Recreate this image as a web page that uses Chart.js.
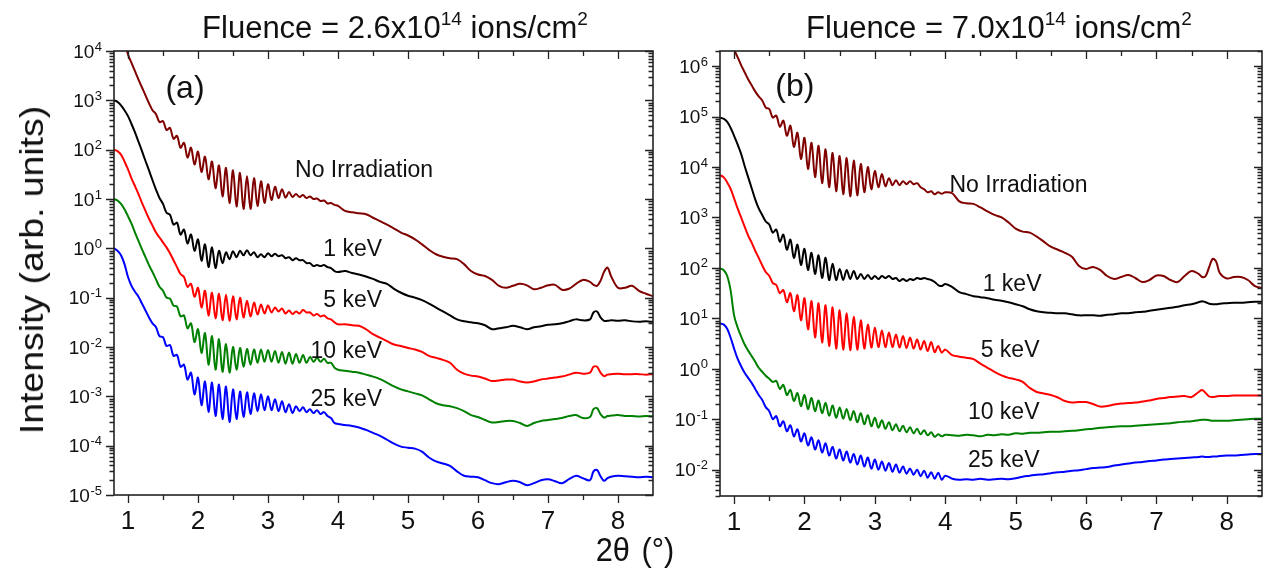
<!DOCTYPE html>
<html><head><meta charset="utf-8">
<script src="https://cdn.jsdelivr.net/npm/chart.js@4.4.1/dist/chart.umd.min.js"></script>
<style>
html,body{margin:0;padding:0;background:#fff;width:1270px;height:577px;overflow:hidden;font-family:"Liberation Sans",Arial,sans-serif;color:#111}
#wa{position:absolute;left:0;top:0;width:660px;height:577px}
#wb{position:absolute;left:660px;top:0;width:610px;height:577px}
.ttl{position:absolute;top:12px;font-size:31px;line-height:31px;white-space:nowrap;transform:translateX(-50%)}
.ttl sup{font-size:19px;line-height:0;vertical-align:13px}
#yt{position:absolute;left:31px;top:270px;font-size:34px;line-height:34px;white-space:nowrap;transform:translate(-50%,-50%) rotate(-90deg) scaleX(1.1)}
#xt{position:absolute;left:635px;top:536px;font-size:29px;line-height:29px;white-space:nowrap;word-spacing:3px;transform:translateX(-50%) scale(1.06,1.14);transform-origin:50% 50%}
</style></head>
<body>
<div id="wa"><canvas id="ca"></canvas></div>
<div id="wb"><canvas id="cb"></canvas></div>
<div class="ttl" style="left:395px">Fluence = 2.6x10<sup>14</sup> ions/cm<sup>2</sup></div>
<div class="ttl" style="left:999px">Fluence = 7.0x10<sup>14</sup> ions/cm<sup>2</sup></div>
<div id="yt">Intensity (arb. units)</div>
<div id="xt">2θ (°)</div>
<script>
// ---- shared x grid: 2θ (degrees) ----
const xGrid = [
 0.80,0.85,0.90,0.95,1.00,1.05,1.10,1.15,1.20,1.25,
 1.30,1.35,1.40,1.45,1.50,1.55,1.60,1.65,1.70,1.75,
 1.80,1.85,1.90,1.95,2.00,2.05,2.10,2.15,2.20,2.25,
 2.30,2.35,2.40,2.45,2.50,2.55,2.60,2.65,2.70,2.75,
 2.80,2.85,2.90,2.95,3.00,3.05,3.10,3.15,3.20,3.25,
 3.30,3.35,3.40,3.45,3.50,3.55,3.60,3.65,3.70,3.75,
 3.80,3.85,3.90,3.95,4.00,4.1,4.2,4.3,4.4,4.5,
 4.6,4.7,4.8,4.9,5.0,5.1,5.2,5.3,5.4,5.5,
 5.6,5.7,5.8,5.9,6.0,6.1,6.2,6.3,6.4,6.5,
 6.6,6.7,6.8,6.9,7.0,7.1,7.2,7.3,7.4,7.5,
 7.6,7.65,7.7,7.75,7.8,7.85,7.9,8.0,8.1,8.2,
 8.3,8.4,8.5];

// ---- intensities, stored as log10(intensity) ----
// Panel (a)
const aNoIrrLog10 = [
 5.20,4.85,4.55,4.22,3.93,3.76,3.59,3.42,3.26,3.10,
 2.94,2.80,2.72,2.56,2.58,2.40,2.44,2.22,2.28,2.04,
 2.14,1.84,2.04,1.70,1.96,1.55,1.86,1.40,1.76,1.22,
 1.68,1.05,1.63,0.92,1.58,0.85,1.53,0.80,1.46,0.80,
 1.42,0.86,1.36,0.92,1.30,0.98,1.25,1.02,1.20,1.03,
 1.14,1.04,1.10,1.04,1.08,1.02,1.05,1.00,1.01,0.96,
 0.97,0.91,0.92,0.88,0.86,0.76,0.73,0.71,0.69,0.62,
 0.55,0.48,0.40,0.32,0.26,0.18,0.08,-0.03,-0.12,-0.17,
 -0.20,-0.22,-0.32,-0.46,-0.53,-0.56,-0.64,-0.76,-0.80,-0.76,
 -0.72,-0.75,-0.83,-0.80,-0.75,-0.74,-0.84,-0.82,-0.72,-0.64,
 -0.68,-0.74,-0.76,-0.66,-0.48,-0.39,-0.56,-0.80,-0.80,-0.76,
 -0.86,-0.92,-0.97];
const a1keVLog10 = [
 3.00,2.97,2.90,2.80,2.68,2.52,2.35,2.16,1.97,1.77,
 1.58,1.38,1.19,1.02,0.90,0.72,0.68,0.48,0.52,0.28,
 0.38,0.10,0.28,-0.05,0.18,-0.25,0.08,-0.38,0.02,-0.40,
 -0.05,-0.30,-0.08,-0.22,-0.06,-0.18,-0.05,-0.14,-0.04,-0.14,
 -0.08,-0.18,-0.12,-0.18,-0.10,-0.16,-0.11,-0.16,-0.14,-0.20,
 -0.18,-0.24,-0.20,-0.24,-0.24,-0.30,-0.30,-0.36,-0.34,-0.36,
 -0.34,-0.38,-0.40,-0.46,-0.48,-0.46,-0.50,-0.53,-0.57,-0.62,
 -0.68,-0.72,-0.82,-0.90,-0.96,-1.00,-1.05,-1.12,-1.20,-1.28,
 -1.36,-1.44,-1.48,-1.50,-1.52,-1.56,-1.64,-1.62,-1.60,-1.57,
 -1.60,-1.64,-1.60,-1.58,-1.55,-1.54,-1.52,-1.48,-1.44,-1.46,
 -1.44,-1.30,-1.28,-1.40,-1.47,-1.47,-1.46,-1.47,-1.46,-1.48,
 -1.49,-1.48,-1.49];
const a5keVLog10 = [
 2.00,1.97,1.90,1.76,1.60,1.42,1.26,1.10,0.92,0.76,
 0.60,0.46,0.32,0.22,0.12,0.02,-0.10,-0.24,-0.38,-0.52,
 -0.58,-0.78,-0.72,-0.98,-0.80,-1.20,-0.86,-1.36,-0.90,-1.42,
 -0.92,-1.46,-0.94,-1.47,-0.97,-1.44,-1.00,-1.40,-1.06,-1.38,
 -1.10,-1.34,-1.14,-1.32,-1.16,-1.30,-1.20,-1.28,-1.22,-1.32,
 -1.26,-1.33,-1.28,-1.32,-1.25,-1.30,-1.30,-1.36,-1.33,-1.38,
 -1.36,-1.42,-1.44,-1.50,-1.54,-1.54,-1.56,-1.57,-1.64,-1.74,
 -1.81,-1.88,-1.95,-1.98,-2.02,-2.05,-2.10,-2.18,-2.22,-2.26,
 -2.32,-2.46,-2.54,-2.58,-2.60,-2.64,-2.69,-2.68,-2.66,-2.66,
 -2.70,-2.72,-2.70,-2.66,-2.64,-2.62,-2.60,-2.56,-2.52,-2.54,
 -2.52,-2.40,-2.40,-2.52,-2.59,-2.56,-2.55,-2.54,-2.55,-2.55,
 -2.55,-2.56,-2.55];
const a10keVLog10 = [
 1.00,0.97,0.90,0.79,0.65,0.50,0.32,0.15,-0.02,-0.18,
 -0.34,-0.48,-0.63,-0.78,-0.86,-1.00,-1.02,-1.16,-1.18,-1.38,
 -1.36,-1.62,-1.52,-1.90,-1.64,-2.12,-1.72,-2.36,-1.78,-2.46,
 -1.84,-2.50,-1.94,-2.52,-2.00,-2.46,-2.02,-2.40,-2.04,-2.36,
 -2.05,-2.32,-2.05,-2.30,-2.06,-2.30,-2.08,-2.32,-2.10,-2.34,
 -2.11,-2.34,-2.14,-2.32,-2.16,-2.32,-2.20,-2.30,-2.22,-2.30,
 -2.24,-2.32,-2.32,-2.42,-2.46,-2.48,-2.50,-2.52,-2.56,-2.60,
 -2.65,-2.72,-2.80,-2.86,-2.90,-2.94,-2.98,-3.06,-3.14,-3.18,
 -3.20,-3.24,-3.30,-3.38,-3.42,-3.48,-3.53,-3.52,-3.50,-3.50,
 -3.54,-3.60,-3.54,-3.50,-3.48,-3.46,-3.44,-3.40,-3.38,-3.44,
 -3.42,-3.26,-3.24,-3.36,-3.43,-3.40,-3.39,-3.38,-3.40,-3.40,
 -3.41,-3.40,-3.41];
const a25keVLog10 = [
 0.00,-0.05,-0.14,-0.32,-0.58,-0.76,-0.88,-0.98,-1.12,-1.26,
 -1.40,-1.52,-1.60,-1.78,-1.80,-1.98,-1.96,-2.18,-2.16,-2.40,
 -2.36,-2.66,-2.52,-2.96,-2.62,-3.18,-2.70,-3.32,-2.72,-3.40,
 -2.76,-3.46,-2.80,-3.52,-2.86,-3.46,-2.90,-3.42,-2.92,-3.36,
 -2.94,-3.30,-2.96,-3.28,-3.00,-3.28,-3.06,-3.30,-3.10,-3.32,
 -3.16,-3.34,-3.20,-3.30,-3.22,-3.32,-3.26,-3.34,-3.28,-3.36,
 -3.32,-3.40,-3.44,-3.54,-3.56,-3.58,-3.60,-3.63,-3.68,-3.74,
 -3.80,-3.88,-3.96,-4.02,-4.04,-4.06,-4.12,-4.24,-4.32,-4.36,
 -4.41,-4.52,-4.61,-4.63,-4.64,-4.70,-4.76,-4.78,-4.74,-4.71,
 -4.74,-4.80,-4.76,-4.70,-4.68,-4.72,-4.76,-4.68,-4.61,-4.66,
 -4.70,-4.52,-4.49,-4.62,-4.71,-4.66,-4.63,-4.61,-4.62,-4.63,
 -4.64,-4.63,-4.64];
// Panel (b)
const bNoIrrLog10 = [
 7.20,7.00,6.75,6.50,6.33,6.18,6.02,5.88,5.74,5.62,
 5.50,5.40,5.32,5.18,5.15,4.98,5.02,4.80,4.92,4.62,
 4.82,4.40,4.68,4.16,4.58,3.96,4.48,3.80,4.42,3.68,
 4.35,3.60,4.28,3.52,4.22,3.46,4.18,3.42,4.13,3.44,
 4.06,3.50,4.00,3.56,3.92,3.60,3.86,3.62,3.78,3.64,
 3.74,3.64,3.72,3.66,3.72,3.66,3.68,3.60,3.56,3.50,
 3.52,3.46,3.50,3.47,3.50,3.48,3.32,3.28,3.27,3.20,
 3.12,3.05,3.00,2.90,2.78,2.72,2.70,2.62,2.52,2.42,
 2.36,2.30,2.22,2.04,1.98,2.02,1.96,1.84,1.78,1.82,
 1.86,1.80,1.72,1.76,1.85,1.84,1.76,1.72,1.84,1.94,
 1.88,1.82,1.84,2.02,2.18,2.12,1.90,1.79,1.82,1.82,
 1.76,1.64,1.60];
const b1keVLog10 = [
 4.98,4.96,4.90,4.78,4.62,4.45,4.26,4.02,3.80,3.58,
 3.36,3.18,3.05,2.92,2.86,2.70,2.76,2.52,2.66,2.36,
 2.56,2.20,2.46,2.06,2.38,1.96,2.30,1.88,2.25,1.80,
 2.20,1.76,2.08,1.76,1.98,1.76,1.96,1.78,1.94,1.78,
 1.88,1.78,1.86,1.78,1.84,1.78,1.84,1.80,1.84,1.78,
 1.80,1.74,1.78,1.74,1.78,1.76,1.80,1.78,1.80,1.78,
 1.76,1.72,1.66,1.64,1.68,1.62,1.52,1.48,1.44,1.42,
 1.40,1.37,1.35,1.32,1.28,1.24,1.18,1.14,1.12,1.11,
 1.10,1.10,1.08,1.06,1.06,1.06,1.05,1.07,1.08,1.10,
 1.10,1.12,1.13,1.15,1.17,1.19,1.21,1.23,1.26,1.28,
 1.32,1.34,1.32,1.29,1.28,1.28,1.29,1.30,1.31,1.31,
 1.32,1.33,1.33];
const b5keVLog10 = [
 3.84,3.80,3.70,3.57,3.38,3.18,3.00,2.82,2.64,2.50,
 2.34,2.20,2.05,1.92,1.84,1.70,1.66,1.50,1.56,1.32,
 1.50,1.14,1.46,0.96,1.40,0.78,1.34,0.62,1.30,0.52,
 1.26,0.45,1.22,0.40,1.16,0.38,1.10,0.37,1.03,0.38,
 0.96,0.40,0.88,0.42,0.82,0.43,0.76,0.43,0.72,0.43,
 0.68,0.42,0.65,0.41,0.62,0.40,0.58,0.38,0.55,0.35,
 0.53,0.33,0.45,0.32,0.38,0.27,0.24,0.22,0.19,0.10,
 0.02,-0.06,-0.13,-0.18,-0.21,-0.26,-0.38,-0.46,-0.49,-0.52,
 -0.57,-0.64,-0.67,-0.66,-0.66,-0.70,-0.75,-0.74,-0.71,-0.69,
 -0.68,-0.67,-0.65,-0.63,-0.60,-0.58,-0.56,-0.55,-0.54,-0.56,
 -0.46,-0.42,-0.48,-0.55,-0.56,-0.55,-0.54,-0.54,-0.53,-0.53,
 -0.53,-0.53,-0.53];
const b10keVLog10 = [
 1.99,1.96,1.85,1.56,1.06,0.82,0.64,0.48,0.36,0.25,
 0.14,0.02,-0.06,-0.14,-0.20,-0.26,-0.24,-0.40,-0.32,-0.52,
 -0.42,-0.64,-0.48,-0.74,-0.52,-0.80,-0.58,-0.84,-0.63,-0.88,
 -0.68,-0.93,-0.73,-0.97,-0.77,-0.99,-0.80,-1.02,-0.84,-1.06,
 -0.88,-1.10,-0.92,-1.14,-0.97,-1.17,-1.02,-1.19,-1.06,-1.22,
 -1.10,-1.24,-1.13,-1.26,-1.16,-1.28,-1.19,-1.30,-1.22,-1.32,
 -1.26,-1.35,-1.30,-1.34,-1.31,-1.32,-1.33,-1.31,-1.32,-1.34,
 -1.31,-1.32,-1.30,-1.31,-1.28,-1.29,-1.27,-1.27,-1.26,-1.25,
 -1.25,-1.24,-1.23,-1.22,-1.20,-1.19,-1.17,-1.16,-1.15,-1.14,
 -1.14,-1.13,-1.12,-1.11,-1.10,-1.09,-1.08,-1.06,-1.05,-1.04,
 -1.02,-1.01,-1.01,-1.02,-1.03,-1.03,-1.03,-1.03,-1.02,-1.01,
 -1.00,-0.99,-0.99];
const b25keVLog10 = [
 0.90,0.88,0.80,0.62,0.40,0.20,0.05,-0.08,-0.18,-0.28,
 -0.40,-0.52,-0.62,-0.76,-0.84,-1.00,-0.94,-1.14,-1.04,-1.24,
 -1.12,-1.34,-1.20,-1.44,-1.28,-1.52,-1.36,-1.60,-1.42,-1.66,
 -1.48,-1.72,-1.55,-1.78,-1.60,-1.82,-1.64,-1.86,-1.69,-1.90,
 -1.72,-1.94,-1.76,-1.98,-1.80,-2.00,-1.84,-2.02,-1.87,-2.04,
 -1.90,-2.06,-1.94,-2.08,-1.98,-2.10,-2.00,-2.13,-2.02,-2.16,
 -2.05,-2.18,-2.06,-2.20,-2.12,-2.18,-2.20,-2.19,-2.20,-2.18,
 -2.20,-2.19,-2.18,-2.19,-2.17,-2.14,-2.12,-2.10,-2.09,-2.07,
 -2.05,-2.04,-2.02,-2.01,-1.99,-1.97,-1.96,-1.95,-1.92,-1.90,
 -1.88,-1.86,-1.85,-1.83,-1.82,-1.80,-1.79,-1.78,-1.77,-1.76,
 -1.75,-1.74,-1.75,-1.75,-1.74,-1.74,-1.73,-1.72,-1.72,-1.71,
 -1.70,-1.69,-1.69];

const seriesNames  = ['No Irradiation','1 keV','5 keV','10 keV','25 keV'];
const seriesColors = ['#800000','#000000','#ff0000','#008000','#0000ff'];

// ---- tick labels ----
const xTickValues = [1,2,3,4,5,6,7,8];
const xTickLabels = ['1','2','3','4','5','6','7','8'];
const yTickValuesA = [1e-5,1e-4,1e-3,1e-2,1e-1,1e0,1e1,1e2,1e3,1e4];
const yTickExpA    = ['-5','-4','-3','-2','-1','0','1','2','3','4'];
const yTickValuesB = [1e-2,1e-1,1e0,1e1,1e2,1e3,1e4,1e5,1e6];
const yTickExpB    = ['-2','-1','0','1','2','3','4','5','6'];

const FONT = '"Liberation Sans", Arial, Helvetica, sans-serif';

// in-plot text labels (positions in data coordinates)
const annotations = {
  ca: [
    {text:'(a)', x:1.814, y:1650, align:'center', base:'middle', size:32},
    {text:'No Irradiation', x:3.386, y:28.5, align:'left', base:'alphabetic', size:23},
    {text:'1 keV', x:4.63, y:0.685, align:'right', base:'alphabetic', size:23},
    {text:'5 keV', x:4.63, y:0.0637, align:'right', base:'alphabetic', size:23},
    {text:'10 keV', x:4.63, y:0.0059, align:'right', base:'alphabetic', size:23},
    {text:'25 keV', x:4.63, y:0.00063, align:'right', base:'alphabetic', size:23}
  ],
  cb: [
    {text:'(b)', x:1.864, y:3.75e5, align:'center', base:'middle', size:32},
    {text:'No Irradiation', x:4.06, y:3260, align:'left', base:'alphabetic', size:23},
    {text:'1 keV', x:5.367, y:34.6, align:'right', base:'alphabetic', size:23},
    {text:'5 keV', x:5.339, y:1.71, align:'right', base:'alphabetic', size:23},
    {text:'10 keV', x:5.339, y:0.102, align:'right', base:'alphabetic', size:23},
    {text:'25 keV', x:5.339, y:0.0111, align:'right', base:'alphabetic', size:23}
  ]
};
const yTickInfo = {
  ca: {vals: yTickValuesA, exps: yTickExpA},
  cb: {vals: yTickValuesB, exps: yTickExpB}
};

const frameTicks = {
  id: 'frameTicks',
  afterDatasetsDraw(chart) {
    const {ctx, chartArea: a, scales: {x, y}} = chart;
    ctx.save();
    ctx.strokeStyle = '#222';
    ctx.lineWidth = 1.3;
    ctx.beginPath();
    // x ticks (major at integers, minor at halves): bottom outward, top inward
    for (let k = 2; k <= 17; k++) {
      const v = k / 2;
      if (v < x.min || v > x.max - 1e-9) continue;
      const p = Math.round(x.getPixelForValue(v)) + 0.5;
      const len = (k % 2 === 0) ? 8 : 5;
      ctx.moveTo(p, a.bottom); ctx.lineTo(p, a.bottom + len);
      ctx.moveTo(p, a.top); ctx.lineTo(p, a.top + len);
    }
    // y ticks (log): left outward, right inward
    const lo = Math.floor(Math.log10(y.min)), hi = Math.ceil(Math.log10(y.max));
    for (let e = lo; e <= hi; e++) {
      for (let k = 1; k <= 9; k++) {
        const v = k * Math.pow(10, e);
        if (v < y.min * 0.9999 || v > y.max * 1.0001) continue;
        const p = Math.round(y.getPixelForValue(v)) + 0.5;
        const len = (k === 1) ? 8 : 4.5;
        ctx.moveTo(a.left, p); ctx.lineTo(a.left - len, p);
        ctx.moveTo(a.right, p); ctx.lineTo(a.right - len, p);
      }
    }
    ctx.stroke();
    ctx.lineWidth = 1.6;
    ctx.strokeRect(a.left, a.top, a.right - a.left, a.bottom - a.top);

    // y tick labels "10" with a raised exponent
    const info = yTickInfo[chart.canvas.id];
    ctx.fillStyle = '#111';
    ctx.textBaseline = 'alphabetic';
    ctx.textAlign = 'left';
    info.vals.forEach((v, i) => {
      const p = y.getPixelForValue(v);
      const exp = info.exps[i];
      ctx.font = '13px ' + FONT;
      const ew = ctx.measureText(exp).width;
      ctx.font = '19px ' + FONT;
      const bw = ctx.measureText('10').width;
      const right = a.left - 12;
      const bx = right - ew - bw - 0.5;
      ctx.fillText('10', bx, p + 6.8);
      ctx.font = '13px ' + FONT;
      ctx.fillText(exp, right - ew, p - 0.5);
    });
    ctx.restore();
  }
};

const annotPlugin = {
  id: 'annotText',
  afterDatasetsDraw(chart) {
    const items = annotations[chart.canvas.id] || [];
    const {ctx, scales: {x, y}} = chart;
    ctx.save();
    ctx.fillStyle = '#111';
    for (const it of items) {
      ctx.font = it.size + 'px ' + FONT;
      ctx.textAlign = it.align;
      ctx.textBaseline = it.base;
      ctx.fillText(it.text, x.getPixelForValue(it.x), y.getPixelForValue(it.y));
    }
    ctx.restore();
  }
};

function labelFor(v, vals, labels) {
  for (let i = 0; i < vals.length; i++) {
    if (Math.abs(vals[i] - v) < 1e-9) return labels[i];
  }
  return '';
}

function makeChart(id, series, cfg) {
  const datasets = series.map((arr, k) => ({
    label: seriesNames[k],
    data: xGrid.map((xv, i) => ({x: xv, y: Math.pow(10, arr[i])})),
    borderColor: seriesColors[k],
    backgroundColor: seriesColors[k],
    borderWidth: 2,
    pointRadius: 0,
    tension: 0.35,
    fill: false
  }));
  return new Chart(document.getElementById(id), {
    type: 'line',
    data: {datasets},
    options: {
      animation: false,
      responsive: true,
      maintainAspectRatio: false,
      layout: {padding: {left: 0, right: cfg.padRight, top: 51, bottom: 0}},
      plugins: {legend: {display: false}, tooltip: {enabled: false}},
      scales: {
        x: {
          type: 'linear', min: 0.8, max: 8.5,
          grid: {display: false, drawTicks: false}, border: {display: false},
          ticks: {stepSize: 1, includeBounds: false, autoSkip: false, maxRotation: 0,
                  padding: 11, color: '#111', font: {family: FONT, size: 26},
                  callback: v => labelFor(v, xTickValues, xTickLabels)},
          afterFit: s => { s.height = cfg.xh; }
        },
        y: {
          type: 'logarithmic', min: cfg.ymin, max: cfg.ymax,
          grid: {display: false, drawTicks: false}, border: {display: false},
          ticks: {display: false},
          afterFit: s => { s.width = cfg.yw; }
        }
      }
    },
    plugins: [frameTicks, annotPlugin]
  });
}

makeChart('ca', [aNoIrrLog10, a1keVLog10, a5keVLog10, a10keVLog10, a25keVLog10],
  {padRight: 7, xh: 82, yw: 114, ymin: 1e-5, ymax: 1e4});
makeChart('cb', [bNoIrrLog10, b1keVLog10, b5keVLog10, b10keVLog10, b25keVLog10],
  {padRight: 8, xh: 81, yw: 60, ymin: 3e-3, ymax: 2e6});
</script>
</body></html>
